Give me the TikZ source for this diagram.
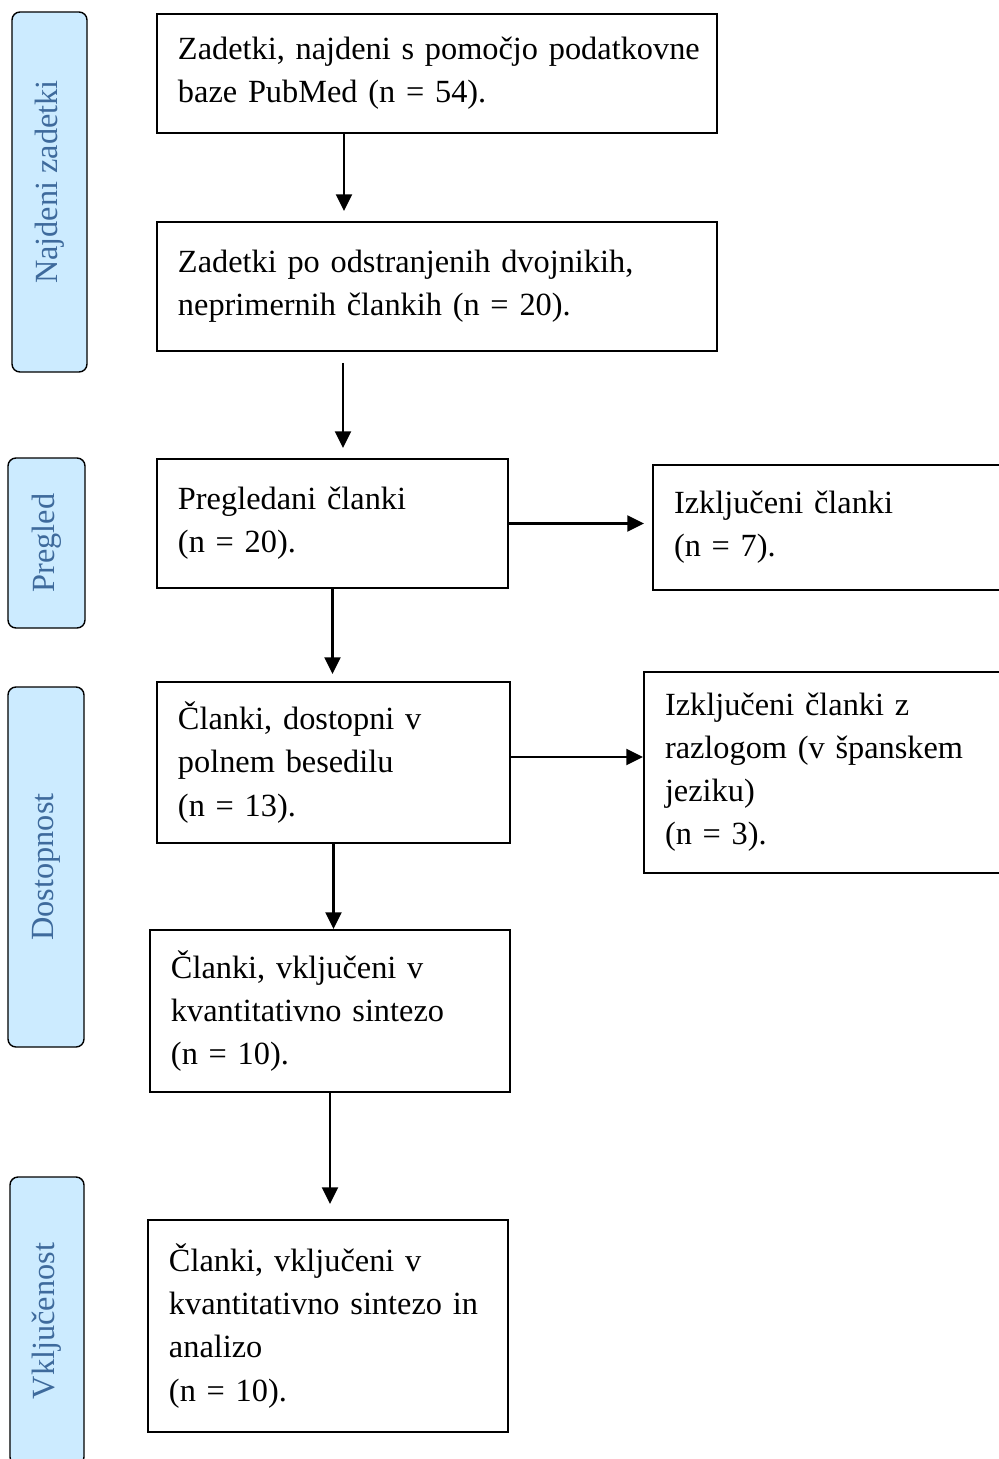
\documentclass[tikz,border=0pt]{standalone}
\usepackage{fontspec}
\setmainfont{Liberation Serif}
\usepackage{xcolor}
\usepackage{tikz}
\usetikzlibrary{arrows.meta}

\definecolor{phasefill}{RGB}{204,235,255}
\definecolor{phasetext}{RGB}{62,106,156}

\begin{document}
\begin{tikzpicture}[
    x=0.2mm, y=-0.2mm,
    box/.style={
        rectangle,
        draw=black,
        line width=1.1pt,
        fill=white,
        align=left,
        inner xsep=4.2mm,
        font=\fontsize{18.4pt}{24.5pt}\selectfont
    },
    phase/.style={
        rectangle,
        rounded corners=1.6mm,
        draw=black,
        line width=0.8pt,
        fill=phasefill,
        text=phasetext,
        rotate=90,
        inner sep=0pt,
        font=\fontsize{18.4pt}{24.5pt}\selectfont
    },
    line/.style={draw, line width=1.5pt, -{Triangle[length=9.5pt,width=9pt]}}
]
\useasboundingbox (0,0) rectangle (999,1459);

% phases on the left
\node (found) [phase, minimum width=72mm, minimum height=15mm] at (49.5,192) {\hspace*{4mm}Najdeni zadetki};
\node (review) [phase, minimum width=34mm, minimum height=15.4mm] at (46.5,543) {Pregled};
\node (access) [phase, minimum width=72mm, minimum height=15.2mm] at (46,867) {Dostopnost};
\node (inclusion) [phase, minimum width=57.6mm, minimum height=14.8mm] at (47,1321) {Vključenost};

% main column
\node (hits) [box, text width=103.6mm, minimum height=23.8mm] at (437,73.5)
    {\mbox{Zadetki, najdeni s pomočjo podatkovne}\\baze PubMed (n = 54).};
\node (dedup) [box, text width=103.6mm, minimum height=25.8mm] at (437,286.5)
    {Zadetki po odstranjenih dvojnikih,\\neprimernih člankih (n = 20).};
\node (screened) [box, text width=61.8mm, minimum height=25.8mm] at (332.5,523.5)
    {Pregledani članki\\(n = 20).};
\node (fulltext) [box, text width=62.2mm, minimum height=32.2mm] at (333.5,762.5)
    {Članki, dostopni v\\polnem besedilu\\(n = 13).};
\node (synth) [box, text width=63.6mm, minimum height=32.4mm] at (330,1011)
    {Članki, vključeni v\\kvantitativno sintezo\\(n = 10).};
\node (incl) [box, text width=63.6mm, minimum height=42.4mm] at (328,1326)
    {Članki, vključeni v\\kvantitativno sintezo in\\analizo\\(n = 10).};

% excluded on the right
\node (excl1) [box, text width=62mm, minimum height=25mm] at (829,527.5)
    {Izključeni članki\\(n = 7).};
\node (excl2) [box, text width=63.8mm, minimum height=40.2mm] at (824.5,772.5)
    {Izključeni članki z\\razlogom (v španskem\\jeziku)\\(n = 3).};

\path [line, shorten >=2mm] ([xshift=-18.6mm]hits.south) -- ([xshift=-18.6mm]hits.south |- dedup.north);
\path [line, shorten <=2.2mm, shorten >=2mm] ([xshift=-18.8mm]dedup.south) -- ([xshift=-18.8mm]dedup.south |- screened.north);
\path [line, shorten >=1.6mm] (screened.east) -- (screened.east -| excl1.west);
\path [line, shorten >=1.4mm] (screened.south) -- (screened.south |- fulltext.north);
\path [line] ([yshift=1.1mm]fulltext.east) -- ([yshift=1.1mm]fulltext.east -| excl2.west);
\path [line] (fulltext.south) -- (fulltext.south |- synth.north);
\path [line, shorten >=3mm] (synth.south) -- (synth.south |- incl.north);

\end{tikzpicture}
\end{document}
